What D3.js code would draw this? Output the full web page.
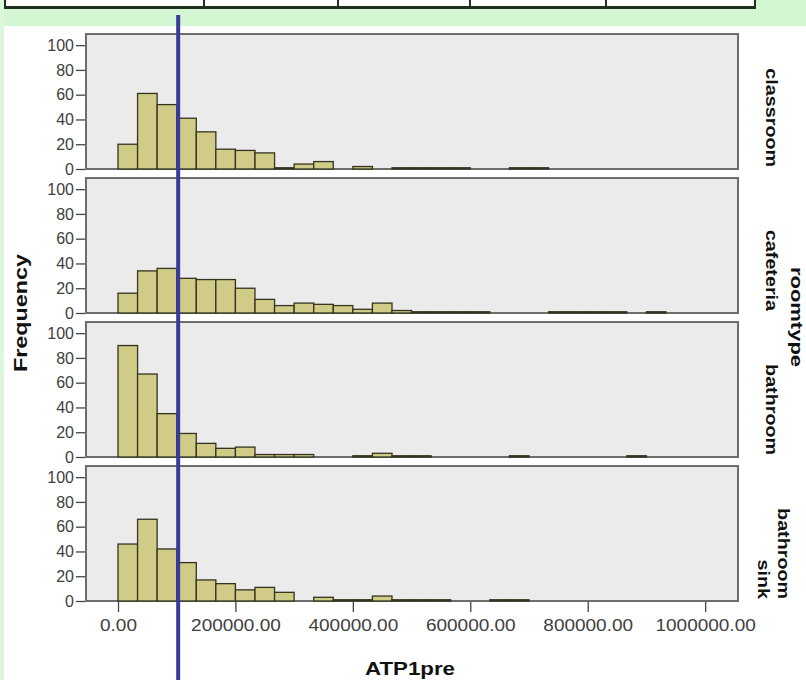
<!DOCTYPE html>
<html>
<head>
<meta charset="utf-8">
<script src="https://cdn.jsdelivr.net/npm/d3@7"></script>
<style>
  body { margin: 0; background: #fff; }
  svg { display: block; font-family: "Liberation Sans", Arial, sans-serif; }
  .tick text { fill: #404040; }
  .tick line { stroke: #444; stroke-width: 1.3; }
  .domain { display: none; }
</style>
</head>
<body>
<svg id="chart" width="806" height="680"></svg>
<script>
// histogram bins: 30 bins of equal width from 0 to 1,000,000
const binWidth = 1000000 / 30;
const roomTypes = ["classroom", "cafeteria", "bathroom", "bathroom sink"];
const classroomCounts = [20, 61, 52, 41, 30, 16, 15, 13, 1, 4, 6, 0, 2, 0, 1, 1, 1, 1, 0, 0, 1, 1, 0, 0, 0, 0, 0, 0, 0, 0];
const cafeteriaCounts = [16, 34, 36, 28, 27, 27, 20, 11, 6, 8, 7, 6, 3, 8, 2, 1, 1, 1, 1, 0, 0, 0, 1, 1, 1, 1, 0, 1, 0, 0];
const bathroomCounts = [90, 67, 35, 19, 11, 7, 8, 2, 2, 2, 0, 0, 1, 3, 1, 1, 0, 0, 0, 0, 1, 0, 0, 0, 0, 0, 1, 0, 0, 0];
const sinkCounts = [46, 66, 42, 31, 17, 14, 9, 11, 7, 0, 3, 1, 1, 4, 1, 1, 1, 0, 0, 1, 1, 0, 0, 0, 0, 0, 0, 0, 0, 0];
const xTicks = [0, 200000, 400000, 600000, 800000, 1000000];
const yTicks = [0, 20, 40, 60, 80, 100];
const refValue = 102500;
const tableCols = [5, 204, 338, 470, 606, 755];

const counts = [classroomCounts, cafeteriaCounts, bathroomCounts, sinkCounts];

const left = 86, right = 738;
const panelTops = [34, 178, 322, 466];
const panelH = 135;

const svg = d3.select("#chart");

// the source chart is a bit wide in its lettering, stretch text to match
const stretch = (sel, factor) =>
  sel.each(function () {
    const w = this.getComputedTextLength();
    d3.select(this).attr("textLength", w * factor).attr("lengthAdjust", "spacingAndGlyphs");
  });

// green strip of the surrounding window + bit of table at the top
svg.append("rect").attr("x", 0).attr("y", 0).attr("width", 806).attr("height", 26).attr("fill", "#d3f6d3");
svg.append("rect").attr("x", 0).attr("y", 0).attr("width", 4).attr("height", 680).attr("fill", "#dcf7dc");
svg.append("rect").attr("x", 5).attr("y", 0).attr("width", 750).attr("height", 6).attr("fill", "#fff");
svg.append("line").attr("x1", 4).attr("x2", 756).attr("y1", 7.5).attr("y2", 7.5)
  .attr("stroke", "#1f2f1f").attr("stroke-width", 3);
svg.selectAll(".tcol").data(tableCols).join("line").attr("class", "tcol")
  .attr("x1", (d) => d).attr("x2", (d) => d).attr("y1", 0).attr("y2", 9)
  .attr("stroke", "#1f2f1f").attr("stroke-width", 2);

const x = d3.scaleLinear().domain([-54500, 1056000]).range([left, right]);

roomTypes.forEach((room, p) => {
  const top = panelTops[p];
  const bottom = top + panelH;
  const y = d3.scaleLinear().domain([0, 109]).range([bottom, top]);
  const g = svg.append("g");

  g.append("rect").attr("x", left).attr("y", top)
    .attr("width", right - left).attr("height", panelH)
    .attr("fill", "#ebebeb").attr("stroke", "#6d6d6d").attr("stroke-width", 2);

  g.selectAll(".bar")
    .data(counts[p].map((c, i) => ({ c, i })).filter((d) => d.c > 0))
    .join("rect")
    .attr("class", "bar")
    .attr("x", (d) => x(d.i * binWidth))
    .attr("width", (d) => x((d.i + 1) * binWidth) - x(d.i * binWidth))
    .attr("y", (d) => y(d.c))
    .attr("height", (d) => bottom - y(d.c))
    .attr("fill", "#d0cc88")
    .attr("stroke", "#34331f")
    .attr("stroke-width", 1.3);

  g.append("g")
    .attr("transform", `translate(${left - 1},0)`)
    .call(d3.axisLeft(y).tickValues(yTicks).tickSize(9).tickPadding(2).tickFormat(d3.format("d")))
    .selectAll("text").attr("font-size", 16);

  // facet label on the right, rotated clockwise
  const lines = room.split(" ");
  const lab = g.append("text")
    .attr("transform", `translate(${lines.length > 1 ? 784 : 772},${bottom - 2}) rotate(90)`)
    .attr("text-anchor", "end")
    .attr("font-size", 17)
    .attr("font-weight", "bold")
    .attr("fill", "#111");
  lines.forEach((t, k) => {
    lab.append("tspan").attr("x", 0).attr("dy", k === 0 ? "0.35em" : "1.2em").text(t);
  });
  stretch(lab.selectAll("tspan"), 1.16);
});

// x axis under the last panel
const xAxis = svg.append("g")
  .attr("transform", `translate(0,${panelTops[3] + panelH + 1})`)
  .call(d3.axisBottom(x).tickValues(xTicks).tickSize(10).tickPadding(7).tickFormat(d3.format(".2f")));
stretch(xAxis.selectAll("text").attr("font-size", 16.5), 1.15);

// reference line
svg.append("line")
  .attr("x1", x(refValue)).attr("x2", x(refValue))
  .attr("y1", 15).attr("y2", 680)
  .attr("stroke", "#3a3a98").attr("stroke-width", 4);

svg.append("text")
  .attr("transform", "translate(27,313) rotate(-90)")
  .attr("text-anchor", "middle")
  .attr("font-size", 18).attr("font-weight", "bold").attr("fill", "#111")
  .attr("textLength", 118).attr("lengthAdjust", "spacingAndGlyphs")
  .text("Frequency");

svg.append("text")
  .attr("x", 410).attr("y", 675)
  .attr("text-anchor", "middle")
  .attr("font-size", 18).attr("font-weight", "bold").attr("fill", "#111")
  .attr("textLength", 90).attr("lengthAdjust", "spacingAndGlyphs")
  .text("ATP1pre");

svg.append("text")
  .attr("transform", "translate(791,317) rotate(90)")
  .attr("text-anchor", "middle")
  .attr("font-size", 16).attr("font-weight", "bold").attr("fill", "#111")
  .attr("textLength", 100).attr("lengthAdjust", "spacingAndGlyphs")
  .text("roomtype");
</script>
</body>
</html>
